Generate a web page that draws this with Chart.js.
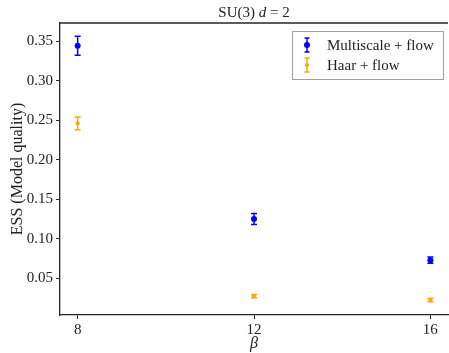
<!DOCTYPE html>
<html>
<head>
<meta charset="utf-8">
<script src="https://cdn.jsdelivr.net/npm/chart.js@4/dist/chart.umd.min.js"></script>
<style>
  html, body { margin: 0; padding: 0; overflow: hidden; background: #fff; }
</style>
</head>
<body>
<canvas id="chart" width="452" height="353"></canvas>
<script>
const betas = [8, 12, 16];
const multiscaleEss = [0.344, 0.125, 0.073];
const multiscaleErr = [0.012, 0.007, 0.004];
const haarEss = [0.246, 0.0276, 0.0225];
const haarErr = [0.008, 0.002, 0.002];
const yTicks = [0.05, 0.10, 0.15, 0.20, 0.25, 0.30, 0.35];
const xTicks = [8, 12, 16];

const serif = "'Liberation Serif', 'DejaVu Serif', serif";
const axisColor = "#262626";

// error bars, title and legend drawn with the chart's scales
const errorBars = {
  id: "errorBars",
  afterDatasetsDraw(chart) {
    const ctx = chart.ctx;
    const xs = chart.scales.x, ys = chart.scales.y;
    chart.data.datasets.forEach((ds) => {
      ctx.save();
      ctx.strokeStyle = ds.borderColor;
      ctx.lineWidth = 1.5;
      ds.data.forEach((p, i) => {
        const x = xs.getPixelForValue(p.x);
        const yTop = ys.getPixelForValue(p.y + ds.errors[i]);
        const yBot = ys.getPixelForValue(p.y - ds.errors[i]);
        ctx.beginPath();
        ctx.moveTo(x, yTop); ctx.lineTo(x, yBot);
        ctx.moveTo(x - 3, yTop); ctx.lineTo(x + 3, yTop);
        ctx.moveTo(x - 3, yBot); ctx.lineTo(x + 3, yBot);
        ctx.stroke();
      });
      ctx.restore();
    });
  },
  afterDraw(chart) {
    const ctx = chart.ctx;
    const area = chart.chartArea;
    ctx.save();
    // top frame
    ctx.strokeStyle = axisColor;
    ctx.lineWidth = 1.3;
    ctx.beginPath();
    ctx.moveTo(area.left, area.top); ctx.lineTo(area.right, area.top);
    ctx.stroke();

    // title
    ctx.fillStyle = "#222";
    ctx.textBaseline = "alphabetic";
    const cx = (area.left + area.right) / 2;
    const parts = [["SU(3) ", "15px " + serif], ["d", "italic 15px " + serif], [" = 2", "15px " + serif]];
    let total = 0;
    parts.forEach(([t, f]) => { ctx.font = f; total += ctx.measureText(t).width; });
    let tx = cx - total / 2;
    parts.forEach(([t, f]) => { ctx.font = f; ctx.fillText(t, tx, 17); tx += ctx.measureText(t).width; });

    // legend
    const lx = 292, ly = 31, lw = 151, lh = 48;
    ctx.fillStyle = "#fff";
    ctx.fillRect(lx, ly, lw, lh);
    ctx.strokeStyle = "#a0a0a0";
    ctx.lineWidth = 1;
    ctx.strokeRect(lx + 0.5, ly + 0.5, lw, lh);
    chart.data.datasets.forEach((ds, i) => {
      const y = ly + 14 + i * 20;
      const sx = lx + 15;
      ctx.strokeStyle = ds.borderColor;
      ctx.lineWidth = 1.5;
      ctx.beginPath();
      ctx.moveTo(sx, y - 7); ctx.lineTo(sx, y + 7);
      ctx.moveTo(sx - 2.5, y - 7); ctx.lineTo(sx + 2.5, y - 7);
      ctx.moveTo(sx - 2.5, y + 7); ctx.lineTo(sx + 2.5, y + 7);
      ctx.stroke();
      ctx.fillStyle = ds.backgroundColor;
      ctx.beginPath();
      ctx.arc(sx, y, ds.pointRadius, 0, Math.PI * 2);
      ctx.fill();
      ctx.fillStyle = "#222";
      ctx.font = "15px " + serif;
      ctx.textBaseline = "middle";
      ctx.fillText(ds.label, lx + 35, y + 1);
    });
    ctx.restore();
  }
};

const ctx = document.getElementById("chart").getContext("2d");
new Chart(ctx, {
  type: "scatter",
  data: {
    datasets: [
      {
        label: "Multiscale + flow",
        data: betas.map((b, i) => ({ x: b, y: multiscaleEss[i] })),
        errors: multiscaleErr,
        borderColor: "#0000ff",
        backgroundColor: "#0000ff",
        pointRadius: 3,
        pointBorderWidth: 0,
      },
      {
        label: "Haar + flow",
        data: betas.map((b, i) => ({ x: b, y: haarEss[i] })),
        errors: haarErr,
        borderColor: "#ffa500",
        backgroundColor: "#ffa500",
        pointRadius: 2,
        pointBorderWidth: 0,
      },
    ],
  },
  options: {
    responsive: false,
    animation: false,
    layout: { padding: { top: 23, left: 0, right: 0, bottom: 0 } },
    plugins: {
      legend: { display: false },
      title: { display: false },
      tooltip: { enabled: false },
    },
    scales: {
      x: {
        type: "linear",
        min: 7.6,
        max: 16.4,
        afterBuildTicks: (s) => { s.ticks = xTicks.map((v) => ({ value: v })); },
        afterFit: (s) => { s.height = 38; },
        grid: { drawOnChartArea: false, drawTicks: true, tickLength: 4, color: axisColor, lineWidth: 1 },
        border: { display: true, color: axisColor, width: 1.3 },
        ticks: { color: "#222", font: { family: serif, size: 15 }, padding: 2, maxRotation: 0 },
        title: { display: true, text: "β", color: "#222", font: { family: serif, size: 16, style: "italic" }, padding: { top: 0, bottom: 0 } },
      },
      y: {
        min: 0.0037,
        max: 0.3728,
        afterBuildTicks: (s) => { s.ticks = yTicks.map((v) => ({ value: v })); },
        afterFit: (s) => { s.width = 60; },
        grid: { drawOnChartArea: false, drawTicks: true, tickLength: 4, color: axisColor, lineWidth: 1 },
        border: { display: true, color: axisColor, width: 1.3 },
        ticks: { color: "#222", font: { family: serif, size: 15 }, padding: 3, callback: (v) => v.toFixed(2) },
        title: { display: true, text: "ESS (Model quality)", color: "#222", font: { family: serif, size: 16 }, padding: { top: 8, bottom: 0 } },
      },
    },
  },
  plugins: [errorBars],
});
</script>
</body>
</html>
